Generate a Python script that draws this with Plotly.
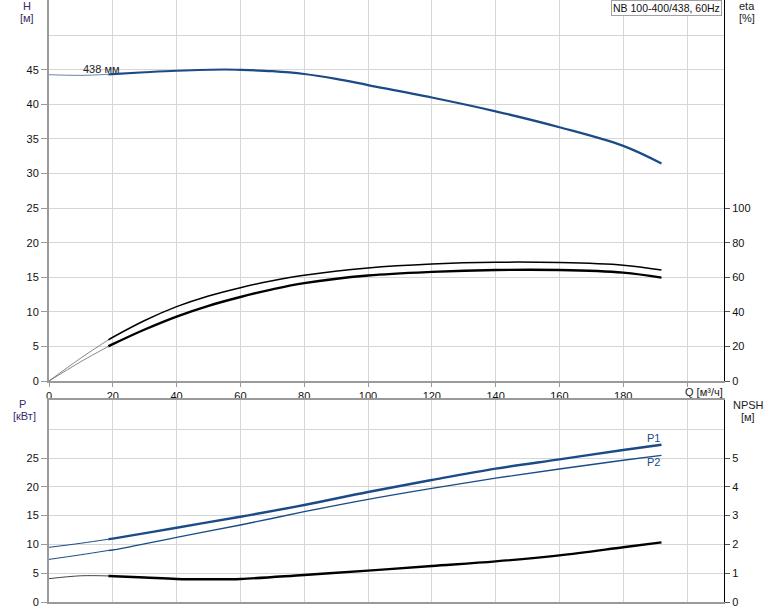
import plotly.graph_objects as go

# ---------------- data ----------------
q_ticks = [0, 20, 40, 60, 80, 100, 120, 140, 160, 180, 200]
q_tick_labels = ["0", "20", "40", "60", "80", "100", "120", "140", "160", "180", ""]
h_ticks = [0, 5, 10, 15, 20, 25, 30, 35, 40, 45]
eta_ticks = [0, 20, 40, 60, 80, 100]
p_ticks = [0, 5, 10, 15, 20, 25]
npsh_ticks = [0, 1, 2, 3, 4, 5]

q_head = [0, 10, 18.6, 30, 40, 55, 60, 70, 80, 90, 100, 120, 140, 160, 180, 192]
head = [44.3, 44.2, 44.35, 44.65, 44.87, 45.05, 45.0, 44.8, 44.4, 43.7, 42.8, 41.0, 39.0, 36.7, 34.0, 31.45]

q_eta = [0, 10, 18.6, 20, 30, 40, 50, 60, 70, 80, 100, 120, 140, 160, 180, 192]
eta_upper = [0, 13.3, 23.8, 25.3, 35.0, 43.0, 49.2, 54.0, 58.0, 61.2, 65.4, 67.7, 68.7, 68.5, 67.0, 64.2]
eta_lower = [0, 11.2, 20.0, 21.3, 29.8, 37.3, 43.5, 48.6, 53.0, 56.6, 61.0, 63.1, 64.2, 64.2, 62.7, 59.8]

q_power = [0, 10, 18.6, 20, 40, 60, 80, 100, 120, 140, 160, 180, 192]
p1 = [9.49, 10.2, 10.9, 11.0, 12.9, 14.8, 16.84, 19.1, 21.18, 23.15, 24.77, 26.4, 27.3]
p2 = [7.4, 8.2, 8.95, 9.03, 11.23, 13.37, 15.68, 17.82, 19.73, 21.5, 23.1, 24.6, 25.46]

q_npsh = [0, 10, 18.6, 30, 40, 50, 60, 80, 100, 120, 140, 160, 180, 192]
npsh = [0.81, 0.91, 0.905, 0.85, 0.80, 0.79, 0.80, 0.94, 1.09, 1.25, 1.41, 1.62, 1.90, 2.07]

q_split = 18.6
pump_label = "NB 100-400/438, 60Hz"
impeller_label = "438 мм"

# ---------------- styles ----------------
BLUE = "#1a4b87"
BLACK = "#000000"
GRID = "#d6d6d6"
AXIS_GREY = "#9a9a9a"
FONT = "Liberation Sans, Arial, sans-serif"

fig = go.Figure()


def add_curve(q, v, color, thin_w, thick_w, xa, ya, thin_color=None):
    qa = [x for x in q if x <= q_split]
    va = [y for x, y in zip(q, v) if x <= q_split]
    qb = [x for x in q if x >= q_split]
    vb = [y for x, y in zip(q, v) if x >= q_split]
    fig.add_trace(go.Scatter(x=qa, y=va, mode="lines", xaxis=xa, yaxis=ya,
                             line=dict(color=thin_color or color, width=thin_w, shape="spline", smoothing=1.0),
                             hoverinfo="skip", showlegend=False))
    fig.add_trace(go.Scatter(x=qb, y=vb, mode="lines", xaxis=xa, yaxis=ya,
                             line=dict(color=color, width=thick_w, shape="spline", smoothing=1.0),
                             hoverinfo="skip", showlegend=False))


add_curve(q_head, head, BLUE, 1.0, 2.2, "x", "y", thin_color="#6a86a8")
add_curve(q_eta, eta_upper, BLACK, 0.7, 1.5, "x", "y2", thin_color="#555555")
add_curve(q_eta, eta_lower, BLACK, 0.7, 2.4, "x", "y2", thin_color="#555555")
add_curve(q_power, p1, BLUE, 1.0, 2.4, "x2", "y3")
add_curve(q_power, p2, BLUE, 1.0, 1.4, "x2", "y3")
add_curve(q_npsh, npsh, BLACK, 1.0, 2.4, "x2", "y4", thin_color="#444444")

L, R, T, B = 49, 50, 0, 9
W, H = 774, 611
PW = W - L - R
PH = H - T - B
top_dom = [(PH - 381) / PH, 1.0]
bot_dom = [0.0, (PH - 400) / PH]

q_max = 211.6
h_max = 55.1
p_max = 35.07

tickfont = dict(family=FONT, size=11, color="#111111")

fig.update_layout(
    width=W, height=H,
    margin=dict(l=L, r=R, t=T, b=B, pad=0, autoexpand=False),
    paper_bgcolor="white", plot_bgcolor="white",
    font=dict(family=FONT, size=11, color="#111111"),
    showlegend=False,
    xaxis=dict(domain=[0, 1], anchor="y", range=[0, q_max], tickvals=q_ticks, ticktext=q_tick_labels,
               showline=True, linecolor=AXIS_GREY, linewidth=2, ticks="outside", ticklen=4,
               tickcolor=AXIS_GREY, showgrid=True, gridcolor=GRID, gridwidth=1, zeroline=False,
               tickfont=tickfont, fixedrange=True, automargin=False),
    yaxis=dict(domain=top_dom, anchor="x", range=[0, h_max], tickvals=h_ticks,
               showline=True, linecolor=AXIS_GREY, linewidth=2, ticks="outside", ticklen=6,
               tickcolor=AXIS_GREY, showgrid=True, gridcolor=GRID, gridwidth=1, zeroline=False,
               minor=dict(dtick=5, showgrid=True, gridcolor=GRID, ticks=""),
               tickfont=tickfont, fixedrange=True, automargin=False),
    yaxis2=dict(overlaying="y", anchor="x", side="right", range=[0, h_max * 4], tickvals=eta_ticks,
                showline=True, linecolor=BLACK, linewidth=1, ticks="outside", ticklen=5,
                tickcolor="#555555", showgrid=False, zeroline=False, tickfont=tickfont, fixedrange=True,
                automargin=False),
    xaxis2=dict(domain=[0, 1], anchor="y3", matches="x", range=[0, q_max], tickvals=q_ticks,
                showticklabels=False, showline=True, mirror=True, linecolor=AXIS_GREY, linewidth=2,
                ticks="", showgrid=True, gridcolor=GRID, gridwidth=1, zeroline=False, fixedrange=True,
                automargin=False),
    yaxis3=dict(domain=bot_dom, anchor="x2", range=[0, p_max], tickvals=p_ticks,
                showline=True, linecolor=AXIS_GREY, linewidth=2, ticks="outside", ticklen=6,
                tickcolor=AXIS_GREY, showgrid=True, gridcolor=GRID, gridwidth=1, zeroline=False,
                minor=dict(dtick=5, showgrid=True, gridcolor=GRID, ticks=""),
                tickfont=tickfont, fixedrange=True, automargin=False),
    yaxis4=dict(overlaying="y3", anchor="x2", side="right", range=[0, p_max / 5], tickvals=npsh_ticks,
                showline=True, linecolor=BLACK, linewidth=1, ticks="outside", ticklen=5,
                tickcolor="#555555", showgrid=False, zeroline=False, tickfont=tickfont, fixedrange=True,
                automargin=False),
)


def px_x(px):
    return (px - L) / PW


def px_y(py):
    return (PH - (py - T)) / PH


def label(text, x, y, xanchor="center", color="#222222", size=11):
    fig.add_annotation(text=text, x=px_x(x), y=px_y(y), xref="paper", yref="paper",
                       xanchor=xanchor, yanchor="middle", showarrow=False,
                       font=dict(family=FONT, size=size, color=color))


label("H", 27, 6, color="#3a2a66")
label("[м]", 27, 18, color="#3a2a66")
label("eta", 747, 6)
label("[%]", 747, 18)
label("P", 22, 404, color="#3a2a66")
label("[кВт]", 24, 416, color="#3a2a66")
label("NPSH", 748, 405)
label("[м]", 748, 417)
label("Q [м³/ч]", 683, 392, xanchor="left")
label("P1", 653, 438, color=BLUE)
label("P2", 653, 462, color=BLUE)

fig.add_annotation(text=impeller_label, x=16.3, y=45.1, xref="x", yref="y", showarrow=False,
                   xanchor="center", yanchor="middle", font=dict(family=FONT, size=11, color="#222222"))

fig.add_annotation(text=pump_label, x=px_x(722), y=1.0, xref="paper", yref="paper",
                   xanchor="right", yanchor="top", showarrow=False, bgcolor="white",
                   bordercolor="#a0a0a0", borderwidth=1, borderpad=1,
                   font=dict(family=FONT, size=10.5, color="#111111"))

fig.write_html(
    "out.html",
    config={"displayModeBar": False, "staticPlot": True},
    post_script="document.body.style.margin='0px';document.body.style.overflow='hidden';",
)
